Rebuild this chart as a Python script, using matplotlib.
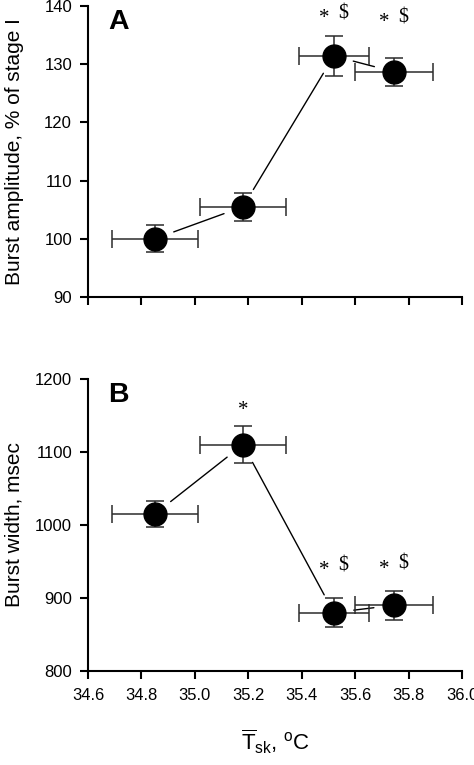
"""Burst amplitude and burst width vs mean skin temperature (panels A and B)."""
import matplotlib
matplotlib.use("Agg")
import matplotlib.pyplot as plt
import matplotlib.ticker as mticker

plt.rcParams["font.family"] = ["Liberation Sans", "DejaVu Sans"]
plt.rcParams["mathtext.fontset"] = "custom"
plt.rcParams["mathtext.rm"] = "Liberation Sans"
plt.rcParams["mathtext.it"] = "Liberation Sans:italic"

# Mean skin temperature per stage (deg C) and its error
tsk = [34.85, 35.18, 35.52, 35.745]
tsk_err = [0.16, 0.16, 0.13, 0.145]

# Panel A: burst amplitude, % of stage I
amp = [100.0, 105.5, 131.4, 128.7]
amp_err = [2.3, 2.4, 3.4, 2.4]
amp_marks = ["", "", "* $", "* $"]
amp_mark_y = [None, None, 138.4, 137.7]

# Panel B: burst width, msec
bwidth = [1015, 1110, 880, 890]
bwidth_err = [18, 25, 20, 20]
bwidth_marks = ["", "*", "* $", "* $"]
bwidth_mark_y = [None, 1162, 942, 944]

xticks = [34.6, 34.8, 35.0, 35.2, 35.4, 35.6, 35.8, 36.0]

ERR_COLOR = "#2b2b2b"

fig = plt.figure(figsize=(4.74, 7.65), dpi=100)
ax_a = fig.add_axes([0.1857, 0.6118, 0.789, 0.3804])
ax_b = fig.add_axes([0.1857, 0.1229, 0.789, 0.3817])


def draw_panel(ax, yvals, yerr, marks, mark_y, letter, ylim, yticks, ylabel, show_xlabels):
    ax.errorbar(tsk, yvals, xerr=tsk_err, yerr=yerr, fmt="none",
                ecolor=ERR_COLOR, elinewidth=1.1, capsize=6.5, capthick=1.1, zorder=2)
    ax.plot(tsk, yvals, linestyle="none", marker="o", markersize=16.5,
            color="black", zorder=3)

    # connecting lines stop short of the markers
    for i in range(len(tsk) - 1):
        ax.annotate("", xy=(tsk[i + 1], yvals[i + 1]), xytext=(tsk[i], yvals[i]),
                    arrowprops=dict(arrowstyle="-", color="black", lw=1.0,
                                    shrinkA=14.5, shrinkB=14.5), zorder=1)

    for x, lab, my in zip(tsk, marks, mark_y):
        if not lab:
            continue
        star_dx = 0 if lab == "*" else -7
        ax.annotate("*", xy=(x, my), xytext=(star_dx, -2.5), textcoords="offset points",
                    ha="center", va="center", fontsize=15, family="Liberation Serif")
        if "$" in lab:
            ax.annotate("$", xy=(x, my), xytext=(6.5, 1), textcoords="offset points",
                        ha="center", va="center", fontsize=14.5, family="Liberation Serif")

    ax.set_xlim(34.6, 36.0)
    ax.set_ylim(*ylim)
    ax.set_xticks(xticks)
    ax.set_yticks(yticks)
    ax.xaxis.set_major_formatter(mticker.FormatStrFormatter("%.1f"))
    if not show_xlabels:
        ax.tick_params(axis="x", labelbottom=False)

    for side in ("top", "right"):
        ax.spines[side].set_visible(False)
    for side in ("left", "bottom"):
        ax.spines[side].set_linewidth(1.5)
    ax.tick_params(direction="out", length=5.5, width=1.5, labelsize=12, pad=6)
    ax.tick_params(axis="x", pad=7)

    ax.set_ylabel(ylabel, fontsize=15)
    ax.yaxis.set_label_coords(-0.172, 0.5)
    ax.text(0.055, 0.99, letter, transform=ax.transAxes, fontsize=20.5,
            fontweight="bold", ha="left", va="top")


draw_panel(ax_a, amp, amp_err, amp_marks, amp_mark_y, "A", (90, 140),
           [90, 100, 110, 120, 130, 140], "Burst amplitude, % of stage I", False)
draw_panel(ax_b, bwidth, bwidth_err, bwidth_marks, bwidth_mark_y, "B", (800, 1200),
           [800, 900, 1000, 1100, 1200], "Burst width, msec", True)

ax_b.set_xlabel(r"$\overline{\mathrm{T}}_{\mathrm{sk}}$, $^{\mathrm{o}}$C",
                fontsize=16, labelpad=18)

fig.savefig("out.png", dpi=100, facecolor="white")
